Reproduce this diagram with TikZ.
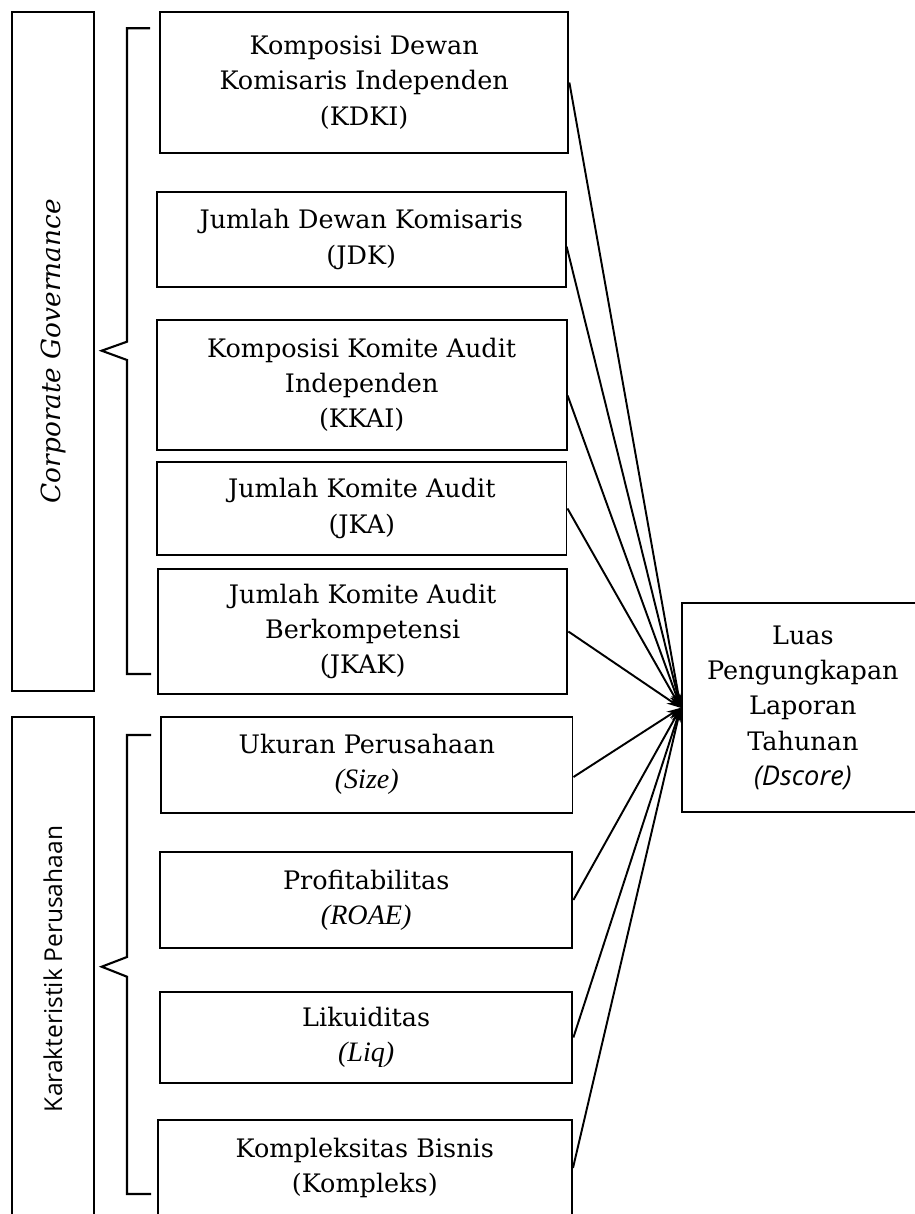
\documentclass[tikz,border=0pt]{standalone}
\usepackage{fontspec}
\setmainfont{DejaVu Serif}
\newfontfamily\kpfont{Open Sans}
\newfontfamily\tmsfont{Liberation Serif}
\usetikzlibrary{arrows.meta}
\tikzset{varbox/.style = {draw, line width=1.1pt, align=center, inner sep=2pt},
  groupbox/.style = {draw, line width=1.1pt, rotate=90},
  link/.style = {-{Stealth[length=8pt,width=5pt]}, line width=1.1pt},
  brace/.style = {line width=1.2pt}}

\begin{document}
\begin{tikzpicture}[x=0.02cm,y=-0.02cm,every node/.style={font=\fontsize{14.5}{20}\selectfont}]
  \useasboundingbox (0,0) rectangle (914,1214);
  % groups on the left
  \node[groupbox, minimum width=13.58cm, minimum height=1.65cm, font=\fontsize{15}{18}\selectfont] (cg) at (53,351.2) {\itshape Corporate Governance};
  \node[groupbox, minimum width=10.09cm, minimum height=1.65cm, font=\fontsize{14}{18}\selectfont] (kp) at (53,968.9) {\kpfont Karakteristik Perusahaan};
  \draw[brace] (150,28.3) -- (127,28.3) -- (127,341.7) -- (101.7,350.7) -- (127,360) -- (127,674) -- (151,674);
  \draw[brace] (151,735) -- (127,735) -- (127,957) -- (101.7,966.7) -- (127,976.7) -- (127,1194) -- (151,1194);
  % variables
  \node[varbox, minimum width=8.17cm, minimum height=2.83cm] (kdki) at (364.2,82.5) {Komposisi Dewan\\Komisaris Independen\\(KDKI)};
  \node[varbox, minimum width=8.18cm, minimum height=1.91cm] (jdk) at (361.2,239.5) {Jumlah Dewan Komisaris\\(JDK)};
  \node[varbox, minimum width=8.2cm, minimum height=2.6cm] (kkai) at (361.7,385) {Komposisi Komite Audit\\Independen\\(KKAI)};
  \node[varbox, minimum width=8.19cm, minimum height=1.86cm] (jka) at (361.8,508.5) {Jumlah Komite Audit\\(JKA)};
  \node[varbox, minimum width=8.19cm, minimum height=2.5cm] (jkak) at (362.7,631.5) {Jumlah Komite Audit\\Berkompetensi\\(JKAK)};
  \node[varbox, minimum width=8.23cm, minimum height=1.92cm] (size) at (366.8,764.7) {Ukuran Perusahaan\\{\tmsfont\itshape\fontsize{16}{20}\selectfont (Size)}};
  \node[varbox, minimum width=8.25cm, minimum height=1.92cm] (roae) at (366.2,900) {Profitabilitas\\{\tmsfont\itshape\fontsize{16}{20}\selectfont (ROAE)}};
  \node[varbox, minimum width=8.25cm, minimum height=1.83cm] (liq) at (366.2,1037.5) {Likuiditas\\{\tmsfont\itshape\fontsize{16}{20}\selectfont (Liq)}};
  \node[varbox, minimum width=8.29cm, minimum height=1.92cm] (komp) at (364.8,1168) {Kompleksitas Bisnis\\(Kompleks)};
  \node[varbox, minimum width=4.85cm, minimum height=4.18cm] (ds) at (802.9,707.8) {Luas\\Pengungkapan\\Laporan\\Tahunan\\{\kpfont\itshape\fontsize{15.5}{20}\selectfont (Dscore)}};
  % arrows
  \path (kdki.east) edge[link] (ds.west);
  \path ([yshift=-4pt]jdk.east) edge[link] (ds.west);
  \path ([yshift=-6pt]kkai.east) edge[link] (ds.west);
  \path (jka.east) edge[link] (ds.west);
  \path (jkak.east) edge[link] (ds.west);
  \path ([yshift=-7pt]size.east) edge[link] (ds.west);
  \path (roae.east) edge[link] (ds.west);
  \path (liq.east) edge[link] (ds.west);
  \path (komp.east) edge[link] (ds.west);
\end{tikzpicture}
\end{document}
